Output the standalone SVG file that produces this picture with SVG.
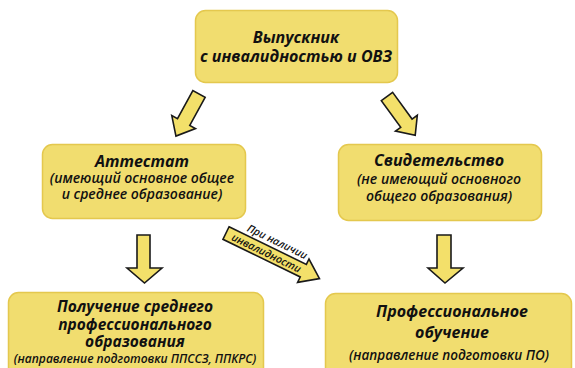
<svg xmlns="http://www.w3.org/2000/svg" width="575" height="368" viewBox="0 0 575 368">
<style>
.box{fill:#f1dd6f;stroke:#e4c84e;stroke-width:1.5}
.arr{fill:#f3e06a;stroke:#1a1a1a;stroke-width:1.6;stroke-linejoin:miter}
text{font-family:"Open Sans","Liberation Sans",sans-serif;font-style:italic;fill:#111;text-anchor:middle}
.b{font-weight:700}
.s{font-weight:600}
</style>
<rect width="575" height="368" fill="#ffffff"/>
<g id="connectors">
  <g id="arrow-top-left" transform="translate(199,94) rotate(118.7)">
    <polygon class="arr" points="0,-7 32,-7 32,-13.5 48,0 32,13.5 32,7 0,7"/>
  </g>
  <g id="arrow-top-right" transform="translate(387,96.5) rotate(54)">
    <polygon class="arr" points="0,-7 33,-7 33,-13.5 48,0 33,13.5 33,7 0,7"/>
  </g>
  <g id="arrow-down-left">
    <polygon class="arr" points="137,235 150,235 150,268 162,268 144.5,283 127,268 137,268"/>
  </g>
  <g id="arrow-down-right">
    <polygon class="arr" points="437,235 451,235 451,268 463,268 445,283 428,268 437,268"/>
  </g>
  <g id="arrow-diagonal" transform="translate(226,233) rotate(26)">
    <polygon class="arr" points="0,-7 86,-7 86,-13 104,0 86,13 86,7 0,7"/>
    <text class="s" x="50" y="-11" font-size="10.5">При наличии</text>
    <text class="s" x="45" y="4" font-size="10.5">инвалидности</text>
  </g>
</g>
<g id="node-graduate">
  <rect class="box" x="195.5" y="10.5" width="202" height="72" rx="10"/>
  <text class="b" x="296" y="43" font-size="16">Выпускник</text>
  <text class="b" x="296" y="62" font-size="16">с инвалидностью и ОВЗ</text>
</g>
<g id="node-attestat">
  <rect class="box" x="42.5" y="144.5" width="203" height="74" rx="10"/>
  <text class="b" x="142" y="167" font-size="16">Аттестат</text>
  <text class="s" x="142" y="183" font-size="14">(имеющий основное общее</text>
  <text class="s" x="142" y="199" font-size="14">и среднее образование)</text>
</g>
<g id="node-certificate">
  <rect class="box" x="338.5" y="144.5" width="203" height="76" rx="10"/>
  <text class="b" x="439" y="166" font-size="16">Свидетельство</text>
  <text class="s" x="439" y="184" font-size="14">(не имеющий основного</text>
  <text class="s" x="439" y="201" font-size="14">общего образования)</text>
</g>
<g id="node-spo">
  <rect class="box" x="8.5" y="292.5" width="255" height="90" rx="10"/>
  <text class="b" x="135" y="312" font-size="15.5">Получение среднего</text>
  <text class="b" x="135" y="330" font-size="15.5">профессионального</text>
  <text class="b" x="135" y="347" font-size="15.5">образования</text>
  <text class="s" x="135" y="363" font-size="12">(направление подготовки ППССЗ, ППКРС)</text>
</g>
<g id="node-po">
  <rect class="box" x="325.5" y="293.5" width="246" height="90" rx="10"/>
  <text class="b" x="452" y="317" font-size="16">Профессиональное</text>
  <text class="b" x="452" y="338" font-size="16">обучение</text>
  <text class="s" x="449" y="360" font-size="13.5">(направление подготовки ПО)</text>
</g>
</svg>
